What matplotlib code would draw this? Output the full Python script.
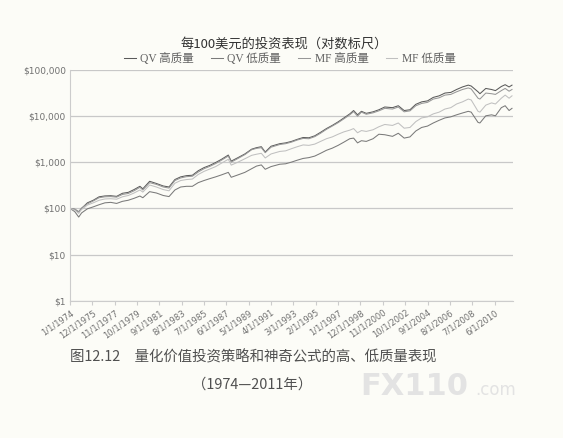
import matplotlib
matplotlib.use('Agg')
import matplotlib.pyplot as plt
import pandas as pd

dates = ['1974-01', '1974-06', '1974-10', '1975-01', '1975-07', '1976-01', '1976-07',
         '1977-01', '1977-07', '1978-01', '1978-07', '1979-01', '1979-07', '1980-01',
         '1980-04', '1980-11', '1981-06', '1982-01', '1982-07', '1983-01', '1983-07',
         '1984-01', '1984-07', '1985-01', '1985-07', '1986-01', '1986-07', '1987-01',
         '1987-08', '1987-11', '1988-06', '1989-01', '1989-08', '1990-01', '1990-06',
         '1990-10', '1991-04', '1992-01', '1992-07', '1993-01', '1993-07', '1994-01',
         '1994-07', '1995-01', '1995-07', '1996-01', '1996-07', '1997-01', '1997-07',
         '1998-01', '1998-05', '1998-09', '1999-01', '1999-06', '2000-01', '2000-07',
         '2001-01', '2001-09', '2002-03', '2002-09', '2003-03', '2003-09', '2004-03',
         '2004-09', '2005-03', '2005-09', '2006-03', '2006-09', '2007-03', '2007-09',
         '2008-03', '2008-06', '2009-01', '2009-03', '2009-09', '2010-03', '2010-07',
         '2011-01', '2011-05', '2011-09', '2011-12']

qv_high = [100, 95, 84, 100, 132, 150, 178, 186, 188, 182, 212, 222, 255, 300,
           265, 385, 345, 305, 290, 420, 480, 510, 520, 650, 760, 850, 980, 1150,
           1420, 1050, 1250, 1500, 1900, 2050, 2150, 1650, 2200, 2500, 2600, 2800,
           3100, 3400, 3350, 3700, 4400, 5300, 6200, 7400, 9000, 11000, 13000, 10500,
           12500, 11300, 12200, 13500, 15500, 15000, 16500, 13000, 13500, 17700,
           20000, 21000, 25000, 27000, 31000, 32000, 37000, 42000, 46000, 44000,
           33000, 30000, 39000, 37000, 35000, 43000, 47000, 42000, 46000]

qv_low = [100, 85, 65, 80, 98, 108, 120, 132, 135, 128, 142, 150, 165, 185,
          170, 230, 215, 190, 180, 250, 290, 300, 300, 360, 400, 440, 480, 530,
          600, 470, 530, 600, 720, 820, 870, 700, 800, 900, 920, 1000,
          1100, 1200, 1250, 1350, 1550, 1800, 2000, 2300, 2700, 3200, 3300, 2600,
          2900, 2800, 3200, 4000, 3900, 3600, 4200, 3300, 3500, 4700,
          5600, 6000, 7000, 8000, 9000, 9500, 10500, 11500, 12500, 12000,
          7200, 7000, 10000, 10500, 10000, 15000, 16500, 13000, 14500]

mf_high = [100, 97, 85, 102, 125, 145, 170, 178, 180, 175, 200, 210, 240, 285,
           250, 360, 330, 290, 275, 400, 455, 485, 495, 610, 720, 810, 930, 1100,
           1350, 1000, 1200, 1450, 1850, 1980, 2050, 1600, 2100, 2400, 2500, 2700,
           3000, 3250, 3200, 3550, 4200, 5100, 6000, 7100, 8600, 10500, 12300, 9800,
           12000, 10800, 11600, 12800, 14500, 14000, 15500, 12200, 12800, 16500,
           18500, 19500, 23000, 24500, 28000, 29000, 33000, 37000, 40000, 38000,
           24000, 23000, 31000, 30000, 29000, 35000, 39000, 34000, 37000]

mf_low = [100, 92, 78, 95, 118, 132, 150, 160, 162, 158, 178, 190, 215, 250,
          225, 320, 290, 255, 240, 350, 400, 420, 430, 540, 630, 710, 800, 950,
          1150, 860, 1000, 1180, 1400, 1480, 1550, 1230, 1500, 1700, 1750, 1950,
          2150, 2350, 2300, 2450, 2800, 3200, 3500, 4000, 4500, 4900, 5300, 4300,
          4800, 4600, 5000, 5800, 6500, 6200, 7000, 5400, 5600, 7500,
          9000, 9500, 11000, 12000, 14000, 15000, 18000, 20000, 23000, 22000,
          12500, 12000, 17000, 19000, 18000, 24000, 28000, 24000, 27000]

labels = ['QV 高质量', 'QV 低质量', 'MF 高质量', 'MF 低质量']
colors = ['#5a5a5a', '#7a7a7a', '#979797', '#c0c0c0']
y_ticks = [1, 10, 100, 1000, 10000, 100000]
y_labels = ['$1', '$10', '$100', '$1,000', '$10,000', '$100,000']

x = pd.to_datetime(dates)
bg = '#fcfcf7'
cjk = ['Noto Sans CJK SC', 'DejaVu Sans']
serif_cjk = ['Liberation Serif', 'Noto Sans CJK SC']

fig = plt.figure(figsize=(5.63, 4.38), dpi=100, facecolor=bg)
ax = fig.add_axes([0.1243, 0.3128, 0.7868, 0.5285], facecolor=bg)

for series, lab, col in zip([qv_high, qv_low, mf_high, mf_low], labels, colors):
    ax.plot(x, series, color=col, lw=0.75, label=lab)

ax.set_yscale('log')
ax.set_ylim(1, 100000)
ax.set_yticks(y_ticks)
ax.set_yticklabels(y_labels)
ax.yaxis.set_minor_locator(plt.NullLocator())
ax.grid(axis='y', color='#c8c8c8', lw=0.9)
ax.set_axisbelow(True)

ax.set_xlim(pd.Timestamp('1974-01-01'), pd.Timestamp('2011-12-31'))
tick_dates = pd.date_range('1974-01-01', periods=20, freq='23MS')
ax.set_xticks(tick_dates)
ax.set_xticklabels([f'{d.month}/{d.day}/{d.year}' for d in tick_dates],
                   rotation=35, ha='right', rotation_mode='anchor')

for s in ['top', 'right']:
    ax.spines[s].set_visible(False)
ax.spines['left'].set_color('#cccccc')
ax.spines['bottom'].set_color('#cccccc')
ax.tick_params(axis='y', length=0, labelsize=6.5, colors='#707070', pad=3)
ax.tick_params(axis='x', length=3, color='#cccccc', labelsize=6, colors='#707070', pad=2)

fig.text(0.505, 0.9, '每100美元的投资表现（对数标尺）', family=cjk,
         fontsize=9.5, fontweight='medium', color='#333333', ha='center', va='center')

leg = fig.legend(loc='center', bbox_to_anchor=(0.515, 0.866), ncol=4,
                 frameon=False, handlelength=1.0, handletextpad=0.4,
                 columnspacing=1.5, prop={'family': serif_cjk, 'size': 8.3})
for t in leg.get_texts():
    t.set_color('#606060')

fig.text(0.125, 0.185, '图12.12　量化价值投资策略和神奇公式的高、低质量表现',
         family=cjk, fontsize=10.4, color='#505050', ha='left', va='center')
fig.text(0.447, 0.122, '（1974—2011年）', family=cjk, fontsize=10.4,
         color='#505050', ha='center', va='center')
fig.text(0.64, 0.118, 'FX110', fontsize=22, fontweight='bold',
         color='#e3e3e3', ha='left', va='center')
fig.text(0.845, 0.11, '.com', fontsize=12, color='#e3e3e3', ha='left', va='center')

fig.savefig('out.png', dpi=100, facecolor=bg)
